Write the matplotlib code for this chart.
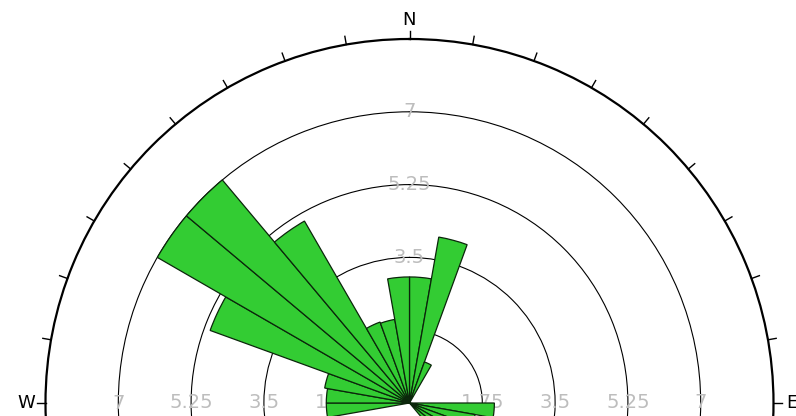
import numpy as np
import matplotlib
matplotlib.use("Agg")
import matplotlib.pyplot as plt

# 10-degree direction classes (start azimuth, clockwise from north)
bin_starts = np.arange(0, 360, 10)
frequency = [
    3.03, 4.05, 1.05, 0.0, 0.0, 0.0, 0.0, 0.0, 0.0,    # 0-90
    2.04, 1.6, 1.2, 0.9, 0.6, 0.0, 0.0, 0.0, 0.0,      # 90-180
    0.0, 0.0, 0.0, 0.0, 0.0, 0.0, 0.0, 0.0, 2.0,       # 180-270
    2.0, 2.07, 5.1, 7.0, 7.0, 5.05, 2.07, 2.04, 3.03,  # 270-360
]
ring_values = [1.75, 3.5, 5.25, 7.0]
ring_labels = ["1.75", "3.5", "5.25", "7"]
r_max = 8.75
compass_labels = {"N": 0, "E": 90, "W": 270}

W, H = 796, 416
fig = plt.figure(figsize=(W / 100, H / 100), dpi=100)
cx, cy, rad = 409.5, 403.0, 364.0   # centre and outer radius in pixels
ax = fig.add_axes([(cx - rad) / W, (H - cy - rad) / H, 2 * rad / W, 2 * rad / H],
                  projection="polar")
ax.set_theta_zero_location("N")
ax.set_theta_direction(-1)
ax.set_ylim(0, r_max)
ax.set_axisbelow(True)

ax.bar(np.deg2rad(bin_starts), frequency, width=np.deg2rad(10), align="edge",
       color="#33cc33", edgecolor="#0b260b", linewidth=0.9, zorder=3)

ax.set_yticks(ring_values)
ax.set_yticklabels([])
ax.yaxis.grid(True, color="black", linewidth=0.8)
ax.set_xticks([])
ax.xaxis.grid(False)
ax.spines["polar"].set_linewidth(1.6)
ax.spines["polar"].set_color("black")

# outward ticks every 10 degrees on the outer circle
for a in range(0, 360, 10):
    t = np.deg2rad(a)
    ax.plot([t, t], [r_max, r_max + 0.2], color="black", linewidth=1.0,
            clip_on=False, zorder=5)

for lab, a in compass_labels.items():
    ax.text(np.deg2rad(a), 9.2, lab, ha="center", va="center", fontsize=13,
            color="black", clip_on=False, zorder=6)

# ring value labels along north and east-west axes, beneath the petals
for v, lab in zip(ring_values, ring_labels):
    for a in (0, 90, 270):
        ax.text(np.deg2rad(a), v, lab, ha="center", va="center", fontsize=14,
                color="#bdbdbd", zorder=2, clip_on=False)

fig.savefig("out.png", dpi=100, facecolor="white")
